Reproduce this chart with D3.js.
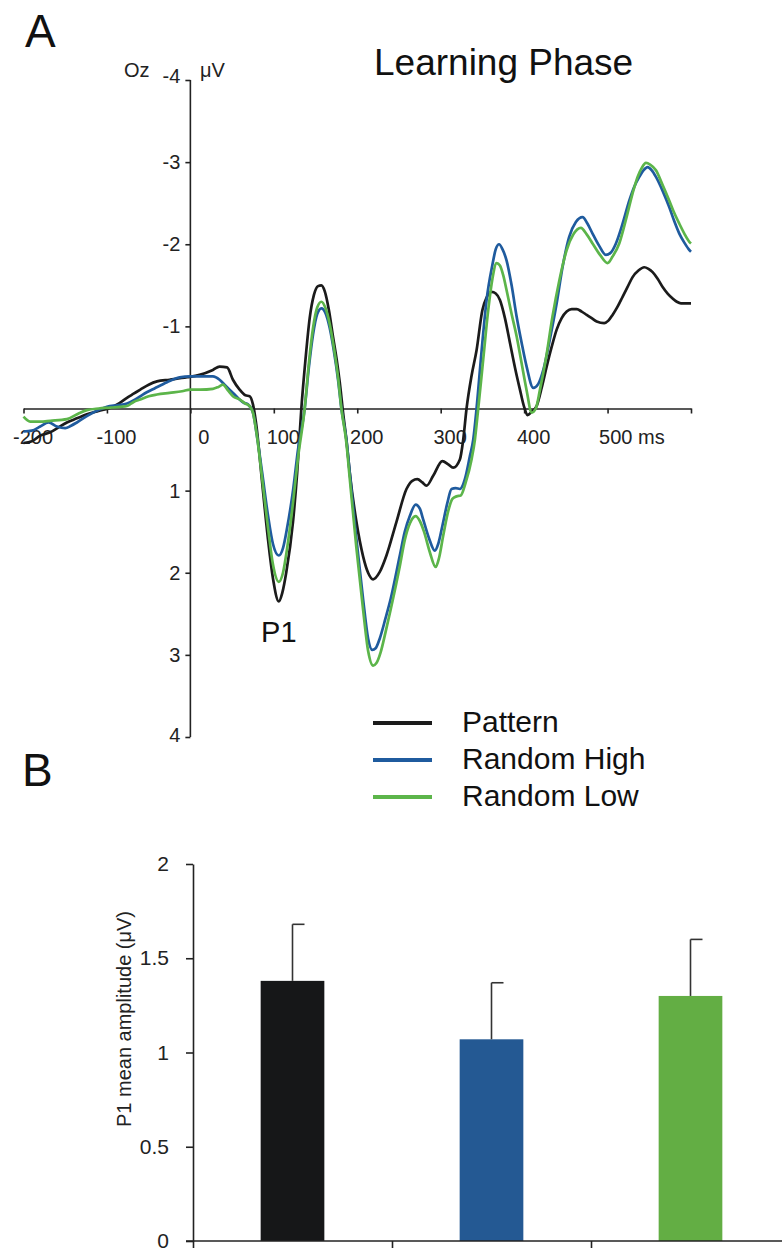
<!DOCTYPE html>
<html>
<head>
<meta charset="utf-8">
<script src="https://cdn.jsdelivr.net/npm/d3@7"></script>
<style>
  html, body { margin: 0; padding: 0; background: #fff; }
  svg { display: block; font-family: "Liberation Sans", Arial, Helvetica, sans-serif; }
</style>
</head>
<body>
<svg id="chart" width="782" height="1252"></svg>
<script>
// ---------- DATA ----------
// ERP waveforms at Oz: [time (ms), amplitude (µV)]
const patternERP = [[-200,0.42],[-190,0.40],[-180,0.33],[-168,0.29],[-158,0.23],[-148,0.17],[-136,0.12],[-124,0.07],[-110,0.03],[-96,-0.01],[-86,-0.06],[-76,-0.13],[-68,-0.18],[-60,-0.23],[-50,-0.29],[-40,-0.33],[-25,-0.35],[-4,-0.38],[11,-0.41],[27,-0.47],[35,-0.51],[44,-0.50],[51,-0.35],[59,-0.23],[66,-0.16],[71,-0.15],[75,-0.05],[79,0.2],[86,0.9],[93,1.59],[99,2.07],[106,2.35],[110,2.25],[115,1.99],[123,1.38],[128,0.78],[133,0.0],[138,-0.6],[143,-1.1],[148,-1.38],[153,-1.49],[157,-1.50],[161,-1.43],[166,-1.2],[171,-0.87],[176,-0.55],[179,-0.32],[183,0.05],[187,0.38],[191,0.78],[199,1.38],[207,1.80],[213,2.0],[219,2.08],[227,1.99],[235,1.79],[247,1.38],[259,0.98],[266,0.88],[272,0.86],[278,0.9],[283,0.94],[291,0.82],[302,0.64],[309,0.68],[315,0.72],[323,0.62],[327,0.38],[331,0.0],[337,-0.4],[343,-0.71],[350,-1.2],[355,-1.35],[361,-1.42],[366,-1.40],[371,-1.32],[377,-1.1],[383,-0.8],[389,-0.5],[395,-0.23],[400,-0.02],[404,0.08],[409,0.04],[415,-0.03],[421,-0.25],[427,-0.51],[433,-0.75],[439,-0.96],[445,-1.1],[451,-1.18],[457,-1.21],[463,-1.21],[469,-1.18],[475,-1.14],[481,-1.10],[487,-1.06],[496,-1.04],[501,-1.07],[506,-1.14],[512,-1.24],[518,-1.36],[524,-1.48],[530,-1.6],[537,-1.68],[544,-1.72],[549,-1.70],[554,-1.66],[560,-1.58],[566,-1.48],[572,-1.40],[578,-1.34],[583,-1.30],[588,-1.28],[598,-1.28],[600,-1.28]];

const randomHighERP = [[-200,0.28],[-190,0.27],[-180,0.22],[-170,0.17],[-160,0.22],[-150,0.24],[-143,0.21],[-136,0.17],[-122,0.08],[-108,0.01],[-100,-0.02],[-88,-0.04],[-76,-0.06],[-66,-0.11],[-57,-0.17],[-42,-0.25],[-28,-0.32],[-13,-0.38],[0,-0.39],[11,-0.39],[20,-0.39],[27,-0.39],[35,-0.35],[41,-0.29],[47,-0.23],[53,-0.17],[59,-0.11],[64,-0.07],[69,-0.05],[75,0.05],[80,0.35],[86,0.78],[93,1.3],[99,1.65],[106,1.79],[111,1.7],[116,1.45],[123,1.0],[129,0.5],[137,0.0],[142,-0.5],[147,-0.9],[152,-1.15],[157,-1.22],[162,-1.16],[167,-0.98],[172,-0.7],[177,-0.35],[181,0.0],[187,0.38],[191,0.78],[199,1.59],[207,2.32],[213,2.8],[218,2.94],[222,2.92],[227,2.8],[234,2.55],[240,2.32],[251,1.79],[257,1.5],[263,1.31],[270,1.17],[275,1.22],[279,1.35],[286,1.58],[293,1.73],[297,1.65],[302,1.43],[308,1.15],[313,0.98],[318,0.97],[323,0.98],[329,0.86],[335,0.58],[339,0.38],[343,0.0],[349,-0.7],[355,-1.32],[362,-1.75],[366,-1.94],[370,-2.0],[374,-1.94],[379,-1.8],[385,-1.5],[391,-1.12],[397,-0.8],[403,-0.51],[411,-0.25],[417,-0.3],[423,-0.47],[431,-0.85],[439,-1.28],[446,-1.72],[454,-2.09],[462,-2.27],[470,-2.33],[476,-2.25],[482,-2.13],[490,-1.98],[498,-1.87],[504,-1.9],[510,-2.01],[518,-2.25],[526,-2.53],[532,-2.7],[538,-2.82],[543,-2.9],[548,-2.94],[553,-2.9],[558,-2.82],[566,-2.65],[574,-2.45],[580,-2.28],[586,-2.13],[592,-2.02],[598,-1.93],[600,-1.91]];

const randomLowERP = [[-200,0.10],[-192,0.16],[-180,0.16],[-168,0.15],[-148,0.13],[-134,0.06],[-124,0.02],[-110,0.0],[-96,-0.01],[-84,-0.02],[-76,-0.03],[-68,-0.08],[-60,-0.11],[-50,-0.15],[-40,-0.17],[-25,-0.19],[-10,-0.21],[0,-0.23],[12,-0.23],[27,-0.24],[33,-0.26],[39,-0.29],[45,-0.22],[51,-0.15],[59,-0.11],[66,-0.06],[71,-0.03],[75,0.05],[80,0.35],[86,0.85],[93,1.45],[99,1.9],[106,2.11],[111,2.0],[116,1.7],[123,1.15],[129,0.6],[137,0.0],[142,-0.55],[147,-0.98],[152,-1.23],[157,-1.30],[162,-1.22],[167,-1.03],[172,-0.74],[177,-0.38],[181,0.0],[187,0.42],[191,0.85],[199,1.7],[207,2.45],[213,2.95],[219,3.13],[223,3.1],[228,2.97],[234,2.72],[240,2.45],[251,1.92],[257,1.6],[263,1.4],[270,1.31],[275,1.37],[280,1.5],[287,1.75],[294,1.93],[298,1.82],[303,1.55],[309,1.25],[314,1.1],[319,1.07],[324,1.06],[330,0.9],[337,0.62],[341,0.38],[345,0.0],[351,-0.6],[357,-1.2],[362,-1.58],[367,-1.77],[371,-1.74],[375,-1.62],[379,-1.44],[385,-1.15],[391,-0.88],[397,-0.55],[403,-0.22],[409,0.05],[414,0.0],[419,-0.23],[426,-0.6],[434,-1.12],[442,-1.55],[451,-1.93],[459,-2.12],[468,-2.2],[475,-2.12],[482,-2.01],[491,-1.87],[500,-1.77],[506,-1.85],[514,-2.01],[522,-2.3],[530,-2.62],[536,-2.82],[541,-2.93],[546,-2.99],[551,-2.97],[558,-2.9],[566,-2.72],[574,-2.53],[580,-2.38],[586,-2.25],[592,-2.13],[598,-2.03],[600,-2.01]];

const conditions = ["Pattern", "Random High", "Random Low"];
const erpTickValues = [-200, -100, 0, 100, 200, 300, 400, 500, 600];
const erpTickLabels = ["-200", "-100", "0", "100", "200", "300", "400", "500 ms", ""];
const ampTickValues = [-4, -3, -2, -1, 1, 2, 3, 4];

const p1Means = [1.38, 1.07, 1.30];
const p1SE = [0.30, 0.30, 0.30];
const barTickValues = [0, 0.5, 1, 1.5, 2];

// ---------- STYLE ----------
const lineColors = ["#1b1b1b", "#1f5b9e", "#5cb54a"];
const barColors = ["#161718", "#245993", "#63ae44"];
const axisColor = "#222";

const svg = d3.select("#chart");

// ---------- PANEL A ----------
const x = d3.scaleLinear().domain([-200, 600]).range([23.5, 691]);
const y = d3.scaleLinear().domain([-4, 4]).range([80, 737]);

svg.append("text").attr("x", 25).attr("y", 47).attr("font-size", 46).attr("fill", "#111").text("A");
svg.append("text").attr("x", 374).attr("y", 75).attr("font-size", 37).attr("fill", "#111").text("Learning Phase");

// y axis at time 0
const yAxis = d3.axisLeft(y).tickValues(ampTickValues).tickSize(5).tickSizeOuter(0).tickPadding(5)
  .tickFormat(d => d);
const gy = svg.append("g").attr("transform", `translate(${x(0)},0)`).call(yAxis);
gy.selectAll("text").attr("font-size", 20).attr("fill", "#222").attr("font-family", null);
gy.selectAll("line, path").attr("stroke", axisColor).attr("stroke-width", 1.6);
gy.select(".domain").attr("d", `M0,${y(-4)}V${y(4)}`);
gy.selectAll(".tick").filter(d => d === -4).select("text").attr("dy", "0.1em");
gy.selectAll(".tick").filter(d => d === 4).select("text").attr("dy", "0.2em");

svg.append("text").attr("x", 124).attr("y", 77).attr("font-size", 20).attr("fill", "#222").text("Oz");
svg.append("text").attr("x", 200).attr("y", 77).attr("font-size", 20).attr("fill", "#222").text("\u03BCV");

// x axis at amplitude 0
const xAxis = d3.axisBottom(x).tickValues(erpTickValues).tickSize(5).tickSizeOuter(0)
  .tickFormat((d, i) => erpTickLabels[i]);
const gx = svg.append("g").attr("transform", `translate(0,${y(0)})`).call(xAxis);
gx.selectAll("line, path").attr("stroke", axisColor).attr("stroke-width", 1.6);
gx.selectAll("text").attr("font-size", 20).attr("fill", "#222").attr("font-family", null)
  .attr("dy", 0).attr("y", 35)
  .attr("x", d => d === 0 ? 13 : 9);
gx.selectAll(".tick").filter(d => d === 500).select("text").attr("text-anchor", "start").attr("x", -9);

// waveforms
const line = d3.line().x(d => x(d[0])).y(d => y(d[1])).curve(d3.curveMonotoneX);
const series = [patternERP, randomHighERP, randomLowERP];
series.forEach((s, i) => {
  svg.append("path").datum(s).attr("d", line)
    .attr("fill", "none").attr("stroke", lineColors[i]).attr("stroke-width", 2.7)
    .attr("stroke-linejoin", "round");
});

// P1 label
svg.append("text").attr("x", x(106)).attr("y", 642).attr("text-anchor", "middle")
  .attr("font-size", 29).attr("fill", "#111").text("P1");

// legend
const legend = svg.append("g");
const legendY = [723, 760, 797];
conditions.forEach((c, i) => {
  legend.append("line").attr("x1", 373).attr("x2", 432).attr("y1", legendY[i]).attr("y2", legendY[i])
    .attr("stroke", lineColors[i]).attr("stroke-width", 4);
  legend.append("text").attr("x", 462).attr("y", legendY[i] + 9).attr("font-size", 30)
    .attr("fill", "#111").text(c);
});

// ---------- PANEL B ----------
svg.append("text").attr("x", 22).attr("y", 786).attr("font-size", 46).attr("fill", "#111").text("B");

const by = d3.scaleLinear().domain([0, 2]).range([1241, 864]);
const bx = d3.scaleBand().domain(conditions).range([193, 790]).paddingInner(0.68).paddingOuter(0.34);
const bpos = d3.scaleLinear().domain([0, 3]).range([193, 790]);

// bars
svg.append("g").selectAll("rect").data(conditions).join("rect")
  .attr("x", d => bx(d)).attr("width", bx.bandwidth())
  .attr("y", (d, i) => by(p1Means[i])).attr("height", (d, i) => by(0) - by(p1Means[i]))
  .attr("fill", (d, i) => barColors[i]);

// error bars
const eb = svg.append("g").attr("stroke", "#333").attr("stroke-width", 1.6);
conditions.forEach((c, i) => {
  const cx = bx(c) + bx.bandwidth() / 2;
  eb.append("line").attr("x1", cx).attr("x2", cx).attr("y1", by(p1Means[i])).attr("y2", by(p1Means[i] + p1SE[i]));
  eb.append("line").attr("x1", cx).attr("x2", cx + 12).attr("y1", by(p1Means[i] + p1SE[i])).attr("y2", by(p1Means[i] + p1SE[i]));
});

// y axis
const byAxis = d3.axisLeft(by).tickValues(barTickValues).tickSize(7).tickSizeOuter(0).tickPadding(17)
  .tickFormat(d => d);
const gby = svg.append("g").attr("transform", `translate(193,0)`).call(byAxis);
gby.selectAll("text").attr("font-size", 21).attr("fill", "#222").attr("font-family", null);
gby.selectAll("line, path").attr("stroke", axisColor).attr("stroke-width", 1.6);

// x axis (category separators)
const bxAxis = d3.axisBottom(bpos).tickValues([0, 1, 2, 3]).tickSize(7).tickSizeOuter(0).tickFormat("");
const gbx = svg.append("g").attr("transform", `translate(0,${by(0)})`).call(bxAxis);
gbx.selectAll("line, path").attr("stroke", axisColor).attr("stroke-width", 1.6);
gbx.select(".domain").attr("d", "M186,0H782");

svg.append("text")
  .attr("transform", `translate(131,1019) rotate(-90)`)
  .attr("text-anchor", "middle").attr("font-size", 20).attr("fill", "#222")
  .text("P1 mean amplitude (\u03BCV)");
</script>
</body>
</html>
